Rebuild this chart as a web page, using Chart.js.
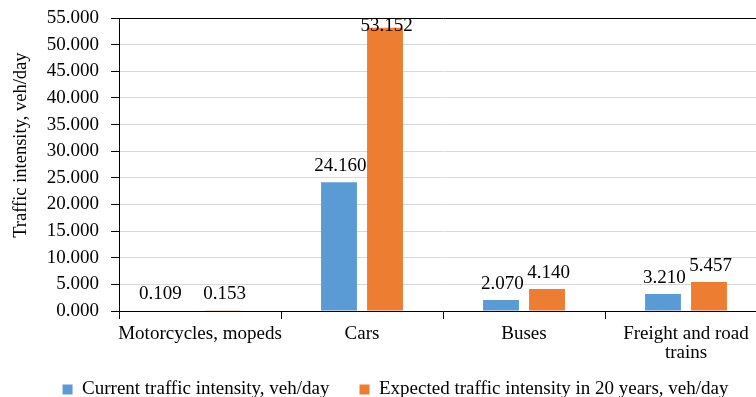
<!DOCTYPE html>
<html>
<head>
<meta charset="utf-8">
<script src="https://cdn.jsdelivr.net/npm/chart.js@4.4.1/dist/chart.umd.min.js"></script>
<style>
  html, body { margin: 0; padding: 0; background: #ffffff; overflow: hidden; }
  #wrap { width: 756px; height: 397px; overflow: hidden; position: relative; }
  #chart { position: absolute; left: 0; top: 0; }
</style>
</head>
<body>
<div id="wrap"><canvas id="chart" width="775" height="427"></canvas></div>
<script>
// Vehicle categories (x axis)
const categories = [
  "Motorcycles, mopeds",
  "Cars",
  "Buses",
  ["Freight and road", "trains"]
];

// Traffic intensity, veh/day (thousands, shown with three decimals)
const currentIntensity = [0.109, 24.160, 2.070, 3.210];
const expectedIntensity = [0.153, 53.152, 4.140, 5.457];

// Series names
const seriesNames = [
  "Current traffic intensity, veh/day",
  "Expected traffic intensity in 20 years, veh/day"
];

const yAxisTitle = "Traffic intensity, veh/day";

const serif = "'Liberation Serif', 'Times New Roman', serif";
const fmt = v => Number(v).toFixed(3);

// Draws the value above each bar, kept inside the plot area.
// Labels of very short neighbouring bars get pushed apart a little.
const valueLabels = {
  id: 'valueLabels',
  afterDatasetsDraw(chart, args, opts) {
    const ctx = chart.ctx;
    const top = chart.chartArea.top;
    ctx.save();
    ctx.font = "19px " + serif;
    ctx.fillStyle = "#000000";
    ctx.textAlign = "center";
    ctx.textBaseline = "alphabetic";
    chart.data.datasets.forEach((ds, i) => {
      const meta = chart.getDatasetMeta(i);
      meta.data.forEach((bar, j) => {
        let y = bar.y - opts.gap;
        if (y < top + 13) y = top + 13;
        let x = bar.x + 1.5;
        const barHeight = bar.base - bar.y;
        if (i === 0 && barHeight < 2) x -= opts.spread;
        ctx.fillText(fmt(ds.data[j]), x, y);
      });
    });
    ctx.restore();
  }
};

// Vertical axis title, placed a little above the middle of the plot
const axisTitle = {
  id: 'axisTitle',
  afterDraw(chart, args, opts) {
    const { top, bottom } = chart.chartArea;
    const ctx = chart.ctx;
    ctx.save();
    ctx.translate(opts.x, top + (bottom - top) * opts.pos);
    ctx.rotate(-Math.PI / 2);
    ctx.font = "18.5px " + serif;
    ctx.fillStyle = "#000000";
    ctx.textAlign = "center";
    ctx.textBaseline = "middle";
    ctx.fillText(opts.text, 0, 0);
    ctx.restore();
  }
};

// Moves the legend row into its final place under the axis labels
const legendShift = {
  id: 'legendShift',
  afterLayout(chart, args, opts) {
    const lg = chart.legend;
    if (lg) {
      lg.left += opts.dx; lg.right += opts.dx;
      lg.top += opts.dy; lg.bottom += opts.dy;
    }
  }
};

new Chart(document.getElementById('chart'), {
  type: 'bar',
  data: {
    labels: categories,
    datasets: [
      {
        label: seriesNames[0],
        data: currentIntensity,
        backgroundColor: '#5B9BD5',
        categoryPercentage: 0.568,
        barPercentage: 0.78
      },
      {
        label: seriesNames[1],
        data: expectedIntensity,
        backgroundColor: '#ED7D31',
        categoryPercentage: 0.568,
        barPercentage: 0.78
      }
    ]
  },
  options: {
    responsive: false,
    animation: false,
    layout: { padding: { top: 18, left: 0, right: 8, bottom: 0 } },
    plugins: {
      legend: {
        position: 'bottom',
        labels: {
          boxWidth: 10,
          boxHeight: 10,
          padding: 30,
          color: '#000000',
          font: { family: serif, size: 19 }
        }
      },
      tooltip: { enabled: false },
      valueLabels: { gap: 11, spread: 18 },
      axisTitle: { text: yAxisTitle, x: 21, pos: 0.434 },
      legendShift: { dx: 12, dy: -18 }
    },
    scales: {
      x: {
        offset: true,
        afterFit: s => { s.height = 57; },
        grid: {
          offset: true,
          drawOnChartArea: false,
          drawTicks: true,
          tickLength: 8,
          color: '#000000'
        },
        border: { color: '#000000', width: 1 },
        ticks: {
          color: '#000000',
          padding: 6,
          maxRotation: 0,
          autoSkip: false,
          font: { family: serif, size: 19, lineHeight: 1.0 }
        }
      },
      y: {
        min: 0,
        max: 55,
        afterFit: s => { s.width = 119; s.paddingTop = 4; s.paddingBottom = 4; },
        ticks: {
          stepSize: 5,
          color: '#000000',
          padding: 12,
          callback: v => fmt(v),
          font: { family: serif, size: 19 }
        },
        grid: {
          tickLength: 8,
          color: ctx => (ctx.tick && ctx.tick.value === 55) ? '#000000' : '#d9d9d9',
          tickColor: '#000000'
        },
        border: { color: '#000000', width: 1 }
      }
    }
  },
  plugins: [valueLabels, axisTitle, legendShift]
});
</script>
</body>
</html>
